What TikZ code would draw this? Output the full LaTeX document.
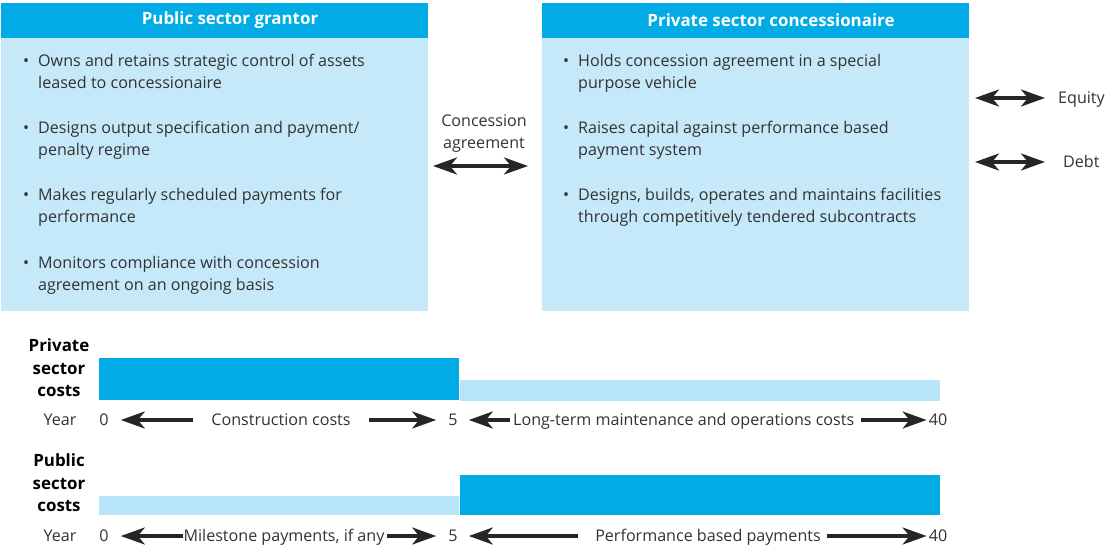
\documentclass[tikz,border=0pt]{standalone}
\usepackage{fontspec}
\setmainfont{Open Sans}
\usepackage{tikz}
\usetikzlibrary{arrows.meta,positioning}

\definecolor{hdblue}{RGB}{0,171,230}
\definecolor{bdblue}{RGB}{197,233,248}
\definecolor{barblue}{RGB}{183,228,247}
\definecolor{txtgray}{RGB}{50,50,50}

\begin{document}
\begin{tikzpicture}[x=1pt,y=-1pt,font=\fontsize{16.1}{22}\selectfont,text=txtgray]
   \tikzstyle{body}=[fill=bdblue,minimum width=427pt,minimum height=273pt,inner sep=0pt]
   \tikzstyle{head}=[fill=hdblue,minimum width=427pt,minimum height=35pt,inner sep=0pt]
   \tikzstyle{headtext}=[text=white,font=\fontsize{16.9}{20}\selectfont\bfseries]
   \tikzstyle{item}=[anchor=north west,align=left,inner sep=0pt]
   \tikzstyle{side}=[align=center,font=\fontsize{16.9}{22.5}\selectfont\bfseries,text=black]
   \tikzstyle{lbl}=[inner sep=0pt,text height=11.5pt,text depth=0.5pt]
   \tikzstyle{conn}=[draw=black!85,line width=3.5pt,-{Stealth[length=24pt,width=17pt,inset=7pt]}]
   \tikzstyle{both}=[draw=black!85,line width=3.5pt,{Stealth[length=24pt,width=17pt,inset=7pt]}-{Stealth[length=24pt,width=17pt,inset=7pt]}]
   \useasboundingbox (0,0) rectangle (1105,546);

   % boxes
   \node[body] (grantor) at (214.5,174.5) {};
   \node[head] (grantorh) at (214.5,20.5) {};
   \node[headtext] at (230,20.5) {Public sector grantor};
   \node[body] (concess) at (755.5,174.5) {};
   \node[head] (concessh) at (755.5,20.5) {};
   \node[headtext] at (771,20.5) {Private sector concessionaire};

   % bullets
   \node[item] (g1) at (38,54) {\llap{\textbullet\hspace{9pt}}Owns and retains strategic control of assets\\leased to concessionaire};
   \node[item] (g2) at (38,121) {\llap{\textbullet\hspace{9pt}}Designs output specification and payment/\\penalty regime};
   \node[item] (g3) at (38,188) {\llap{\textbullet\hspace{9pt}}Makes regularly scheduled payments for\\performance};
   \node[item] (g4) at (38,256) {\llap{\textbullet\hspace{9pt}}Monitors compliance with concession\\agreement on an ongoing basis};
   \node[item] (c1) at (578,54) {\llap{\textbullet\hspace{9pt}}Holds concession agreement in a special\\purpose vehicle};
   \node[item] (c2) at (578,121) {\llap{\textbullet\hspace{9pt}}Raises capital against performance based\\payment system};
   \node[item] (c3) at (578,188) {\llap{\textbullet\hspace{9pt}}Designs, builds, operates and maintains facilities\\through competitively tendered subcontracts};

   % concession agreement
   \node[align=center] (agree) at (484,133.5) {Concession\\agreement};
   \coordinate (agL) at (433,166);
   \coordinate (agR) at (528,166);
   \draw[both] (agL) -- (agR);

   % equity and debt
   \node[lbl,anchor=west] (equity) at (1058,98) {Equity};
   \node[lbl,anchor=west] (debt) at (1063,162) {Debt};
   \coordinate (eqL) at (975,98);
   \coordinate (dbL) at (975,162);
   \draw[both,shorten >=13pt] (eqL) -- (equity);
   \draw[both,shorten >=18pt] (dbL) -- (debt);

   % private sector costs
   \node[side] (priv) at (59,368) {Private\\sector\\costs};
   \fill[hdblue] (99,358) rectangle (459,400);
   \fill[barblue] (460,380) rectangle (940,401);
   \node[lbl] (year1) at (60,420) {Year};
   \node[lbl] (a0) at (104,420) {0};
   \node[lbl] (a5) at (453,420) {5};
   \node[lbl] (a40) at (938,420) {40};
   \node[lbl] (build) at (281,420) {Construction costs};
   \node[lbl,anchor=west] (maint) at (513,420) {Long-term maintenance and operations costs};
   \draw[conn,shorten <=18pt,shorten >=12pt] (build) -- (a0);
   \draw[conn,shorten <=18pt,shorten >=12pt] (build) -- (a5);
   \draw[conn,shorten <=3pt,shorten >=11pt] (maint) -- (a5);
   \draw[conn,shorten <=7pt,shorten >=2pt] (maint) -- (a40);

   % public sector costs
   \node[side] (pub) at (59,483) {Public\\sector\\costs};
   \fill[barblue] (99,496) rectangle (459,515);
   \fill[hdblue] (460,475) rectangle (940,515);
   \node[lbl] (year2) at (60,536) {Year};
   \node[lbl] (b0) at (104,536) {0};
   \node[lbl] (b5) at (453,536) {5};
   \node[lbl] (b40) at (938,536) {40};
   \node[lbl] (mile) at (284,536) {Milestone payments, if any};
   \node[lbl] (perf) at (708,536) {Performance based payments};
   \draw[conn,shorten >=12pt] (mile) -- (b0);
   \draw[conn,shorten <=2pt,shorten >=12pt] (mile) -- (b5);
   \draw[conn,shorten <=17pt,shorten >=11pt] (perf) -- (b5);
   \draw[conn,shorten <=6pt,shorten >=2pt] (perf) -- (b40);
\end{tikzpicture}
\end{document}
